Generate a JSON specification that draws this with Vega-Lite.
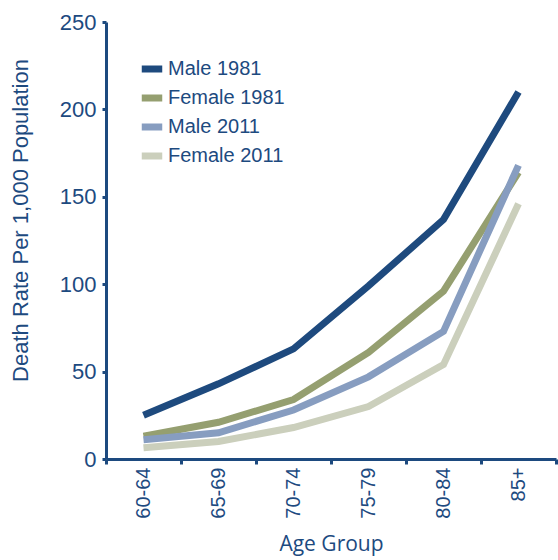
{
  "$schema": "https://vega.github.io/schema/vega-lite/v6.json",
  "autosize": "none",
  "width": 450,
  "height": 437,
  "padding": {"left": 106, "top": 22, "right": 2, "bottom": 101},
  "background": "white",
  "config": {
    "view": {"stroke": null},
    "font": "Liberation Sans"
  },
  "data": {
    "values": [
      {"age": "60-64", "series": "Male 1981", "rate": 25},
      {"age": "65-69", "series": "Male 1981", "rate": 43},
      {"age": "70-74", "series": "Male 1981", "rate": 63},
      {"age": "75-79", "series": "Male 1981", "rate": 99},
      {"age": "80-84", "series": "Male 1981", "rate": 137},
      {"age": "85+", "series": "Male 1981", "rate": 210},
      {"age": "60-64", "series": "Female 1981", "rate": 13},
      {"age": "65-69", "series": "Female 1981", "rate": 21},
      {"age": "70-74", "series": "Female 1981", "rate": 34},
      {"age": "75-79", "series": "Female 1981", "rate": 61},
      {"age": "80-84", "series": "Female 1981", "rate": 96},
      {"age": "85+", "series": "Female 1981", "rate": 164},
      {"age": "60-64", "series": "Male 2011", "rate": 11},
      {"age": "65-69", "series": "Male 2011", "rate": 15},
      {"age": "70-74", "series": "Male 2011", "rate": 28},
      {"age": "75-79", "series": "Male 2011", "rate": 47},
      {"age": "80-84", "series": "Male 2011", "rate": 73},
      {"age": "85+", "series": "Male 2011", "rate": 168},
      {"age": "60-64", "series": "Female 2011", "rate": 6.5},
      {"age": "65-69", "series": "Female 2011", "rate": 10},
      {"age": "70-74", "series": "Female 2011", "rate": 18},
      {"age": "75-79", "series": "Female 2011", "rate": 30},
      {"age": "80-84", "series": "Female 2011", "rate": 54},
      {"age": "85+", "series": "Female 2011", "rate": 146}
    ]
  },
  "mark": {"type": "line", "strokeWidth": 7, "strokeJoin": "miter", "strokeCap": "butt"},
  "encoding": {
    "x": {
      "field": "age",
      "type": "nominal",
      "sort": null,
      "scale": {"type": "band", "paddingInner": 0, "paddingOuter": 0},
      "axis": {
        "title": "Age Group",
        "titleFont": "Open Sans",
        "titleFontSize": 21,
        "titleFontWeight": "normal",
        "titleColor": "#1d4a7f",
        "titlePadding": 15,
        "labelAngle": -90,
        "labelAlign": "right",
        "labelBaseline": "middle",
        "labelFontSize": 20,
        "labelColor": "#1d4a7f",
        "labelPadding": 3,
        "tickBand": "extent",
        "tickSize": 5,
        "tickWidth": 3,
        "tickColor": "#1d4a7f",
        "domainColor": "#1d4a7f",
        "domainWidth": 3,
        "grid": false
      }
    },
    "y": {
      "field": "rate",
      "type": "quantitative",
      "scale": {"domain": [0, 250], "nice": false},
      "axis": {
        "title": "Death Rate Per 1,000 Population",
        "titleFontSize": 22,
        "titleFontWeight": "normal",
        "titleColor": "#1d4a7f",
        "titlePadding": 27,
        "titleY": 198,
        "values": [0, 50, 100, 150, 200, 250],
        "labelFontSize": 22,
        "labelColor": "#1d4a7f",
        "labelPadding": 6,
        "tickSize": 4,
        "tickWidth": 3,
        "tickColor": "#1d4a7f",
        "domainColor": "#1d4a7f",
        "domainWidth": 3,
        "grid": false
      }
    },
    "color": {
      "field": "series",
      "type": "nominal",
      "sort": ["Male 1981", "Female 1981", "Male 2011", "Female 2011"],
      "scale": {
        "domain": ["Male 1981", "Female 1981", "Male 2011", "Female 2011"],
        "range": ["#1e4a7e", "#959f70", "#879dc0", "#cbcfbc"]
      },
      "legend": {
        "title": null,
        "orient": "none",
        "legendX": 32,
        "legendY": 33,
        "symbolType": "stroke",
        "symbolSize": 420,
        "symbolStrokeWidth": 7,
        "labelFontSize": 20,
        "labelColor": "#1d4a7f",
        "labelOffset": 2,
        "rowPadding": 1
      }
    },
    "order": {"field": "series"}
  }
}
